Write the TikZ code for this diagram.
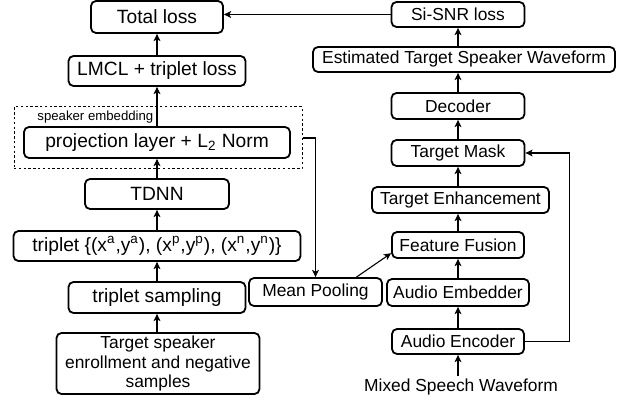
\documentclass[tikz,border=0pt]{standalone}
\usepackage{fontspec}
\setmainfont{Liberation Sans}
\usetikzlibrary{arrows.meta}

\tikzset{
    blk/.style={draw, rounded corners=2.5pt, line width=0.9pt, inner sep=1pt, align=center,
        font=\fontsize{8.7}{9.8}\selectfont},
    bigblk/.style={blk, font=\fontsize{9.6}{11}\selectfont},
    flow/.style={line width=0.55pt, -{Stealth[length=3.6pt,width=3.4pt,inset=0.9pt]}},
}

\begin{document}
\begin{tikzpicture}[x=0.5pt,y=-0.5pt]
    \useasboundingbox (0,0) rectangle (624,400);
    % speaker branch
    \node[bigblk, minimum width=66pt, minimum height=16pt] (total) at (157,17) {Total loss};
    \node[bigblk, minimum width=88.5pt, minimum height=15pt] (lmcl) at (157,71) {LMCL + triplet loss};
    \node[draw, dashed, dash pattern=on 1.2pt off 1.2pt, line width=0.5pt, minimum width=144pt, minimum height=31pt] (spk) at (158,138) {};
    \node[anchor=west, inner sep=0pt, font=\fontsize{6.6}{7.5}\selectfont] (spklabel) at (37,117) {speaker embedding};
    \node[bigblk, minimum width=133pt, minimum height=15.5pt] (proj) at (157,142.5) {projection layer + L\textsubscript{2} Norm};
    \node[bigblk, minimum width=72pt, minimum height=15pt] (tdnn) at (157,194) {TDNN};
    \node[bigblk, minimum width=143.5pt, minimum height=15pt] (trip) at (157,246)
        {triplet \{(x\textsuperscript{a},y\textsuperscript{a}), (x\textsuperscript{p},y\textsuperscript{p}), (x\textsuperscript{n},y\textsuperscript{n})\}};
    \node[bigblk, minimum width=88.5pt, minimum height=15.5pt] (samp) at (157,297.5) {triplet sampling};
    \node[blk, minimum width=101.5pt, minimum height=30.5pt] (enrol) at (158,363.5) {Target speaker\\enrollment and negative\\samples};
    \node[blk, minimum width=66.5pt, minimum height=14pt] (pool) at (315.5,292) {Mean Pooling};
    % extraction branch
    \node[blk, minimum width=66.5pt, minimum height=12.5pt] (snr) at (458,14.5) {Si-SNR loss};
    \node[blk, minimum width=151pt, minimum height=12.5pt] (est) at (464,59.5) {Estimated Target Speaker Waveform};
    \node[blk, minimum width=66.5pt, minimum height=13pt] (dec) at (458,106) {Decoder};
    \node[blk, minimum width=66.5pt, minimum height=13pt] (mask) at (458,153) {Target Mask};
    \node[blk, minimum width=88.5pt, minimum height=13pt] (enh) at (460.5,200) {Target Enhancement};
    \node[blk, minimum width=66pt, minimum height=13pt] (fuse) at (458,245) {Feature Fusion};
    \node[blk, minimum width=71pt, minimum height=13.5pt] (emb) at (458,292.5) {Audio Embedder};
    \node[blk, minimum width=66pt, minimum height=12.5pt] (enc) at (458,341.5) {Audio Encoder};
    \node[inner sep=1pt, font=\fontsize{8.7}{9.8}\selectfont] (mixed) at (461,387) {Mixed Speech Waveform};

    \draw[flow] (enrol.north -| samp.south) -- (samp.south);
    \draw[flow] (samp) -- (trip);
    \draw[flow] (trip) -- (tdnn);
    \draw[flow] (tdnn) -- (proj);
    \draw[flow] (proj) -- (lmcl);
    \draw[flow] (lmcl) -- (total);
    \draw[flow] (spk.east) -| (pool.north);
    \draw[flow] (pool.20) -- (fuse.187);

    \draw[flow] (mixed.north -| enc.south) -- (enc.south);
    \draw[flow] (enc) -- (emb);
    \draw[flow] (emb) -- (fuse);
    \draw[flow] (fuse.north) -- (fuse.north |- enh.south);
    \draw[flow] (enh.north -| mask.south) -- (mask.south);
    \draw[flow] (mask) -- (dec);
    \draw[flow] (dec.north) -- (dec.north |- est.south);
    \draw[flow] (est.north -| snr.south) -- (snr.south);
    \draw[flow] (enc.east) -- ++(45,0) |- (mask.east);
    \draw[flow] (snr.west) -- (snr.west -| total.east);
\end{tikzpicture}
\end{document}
